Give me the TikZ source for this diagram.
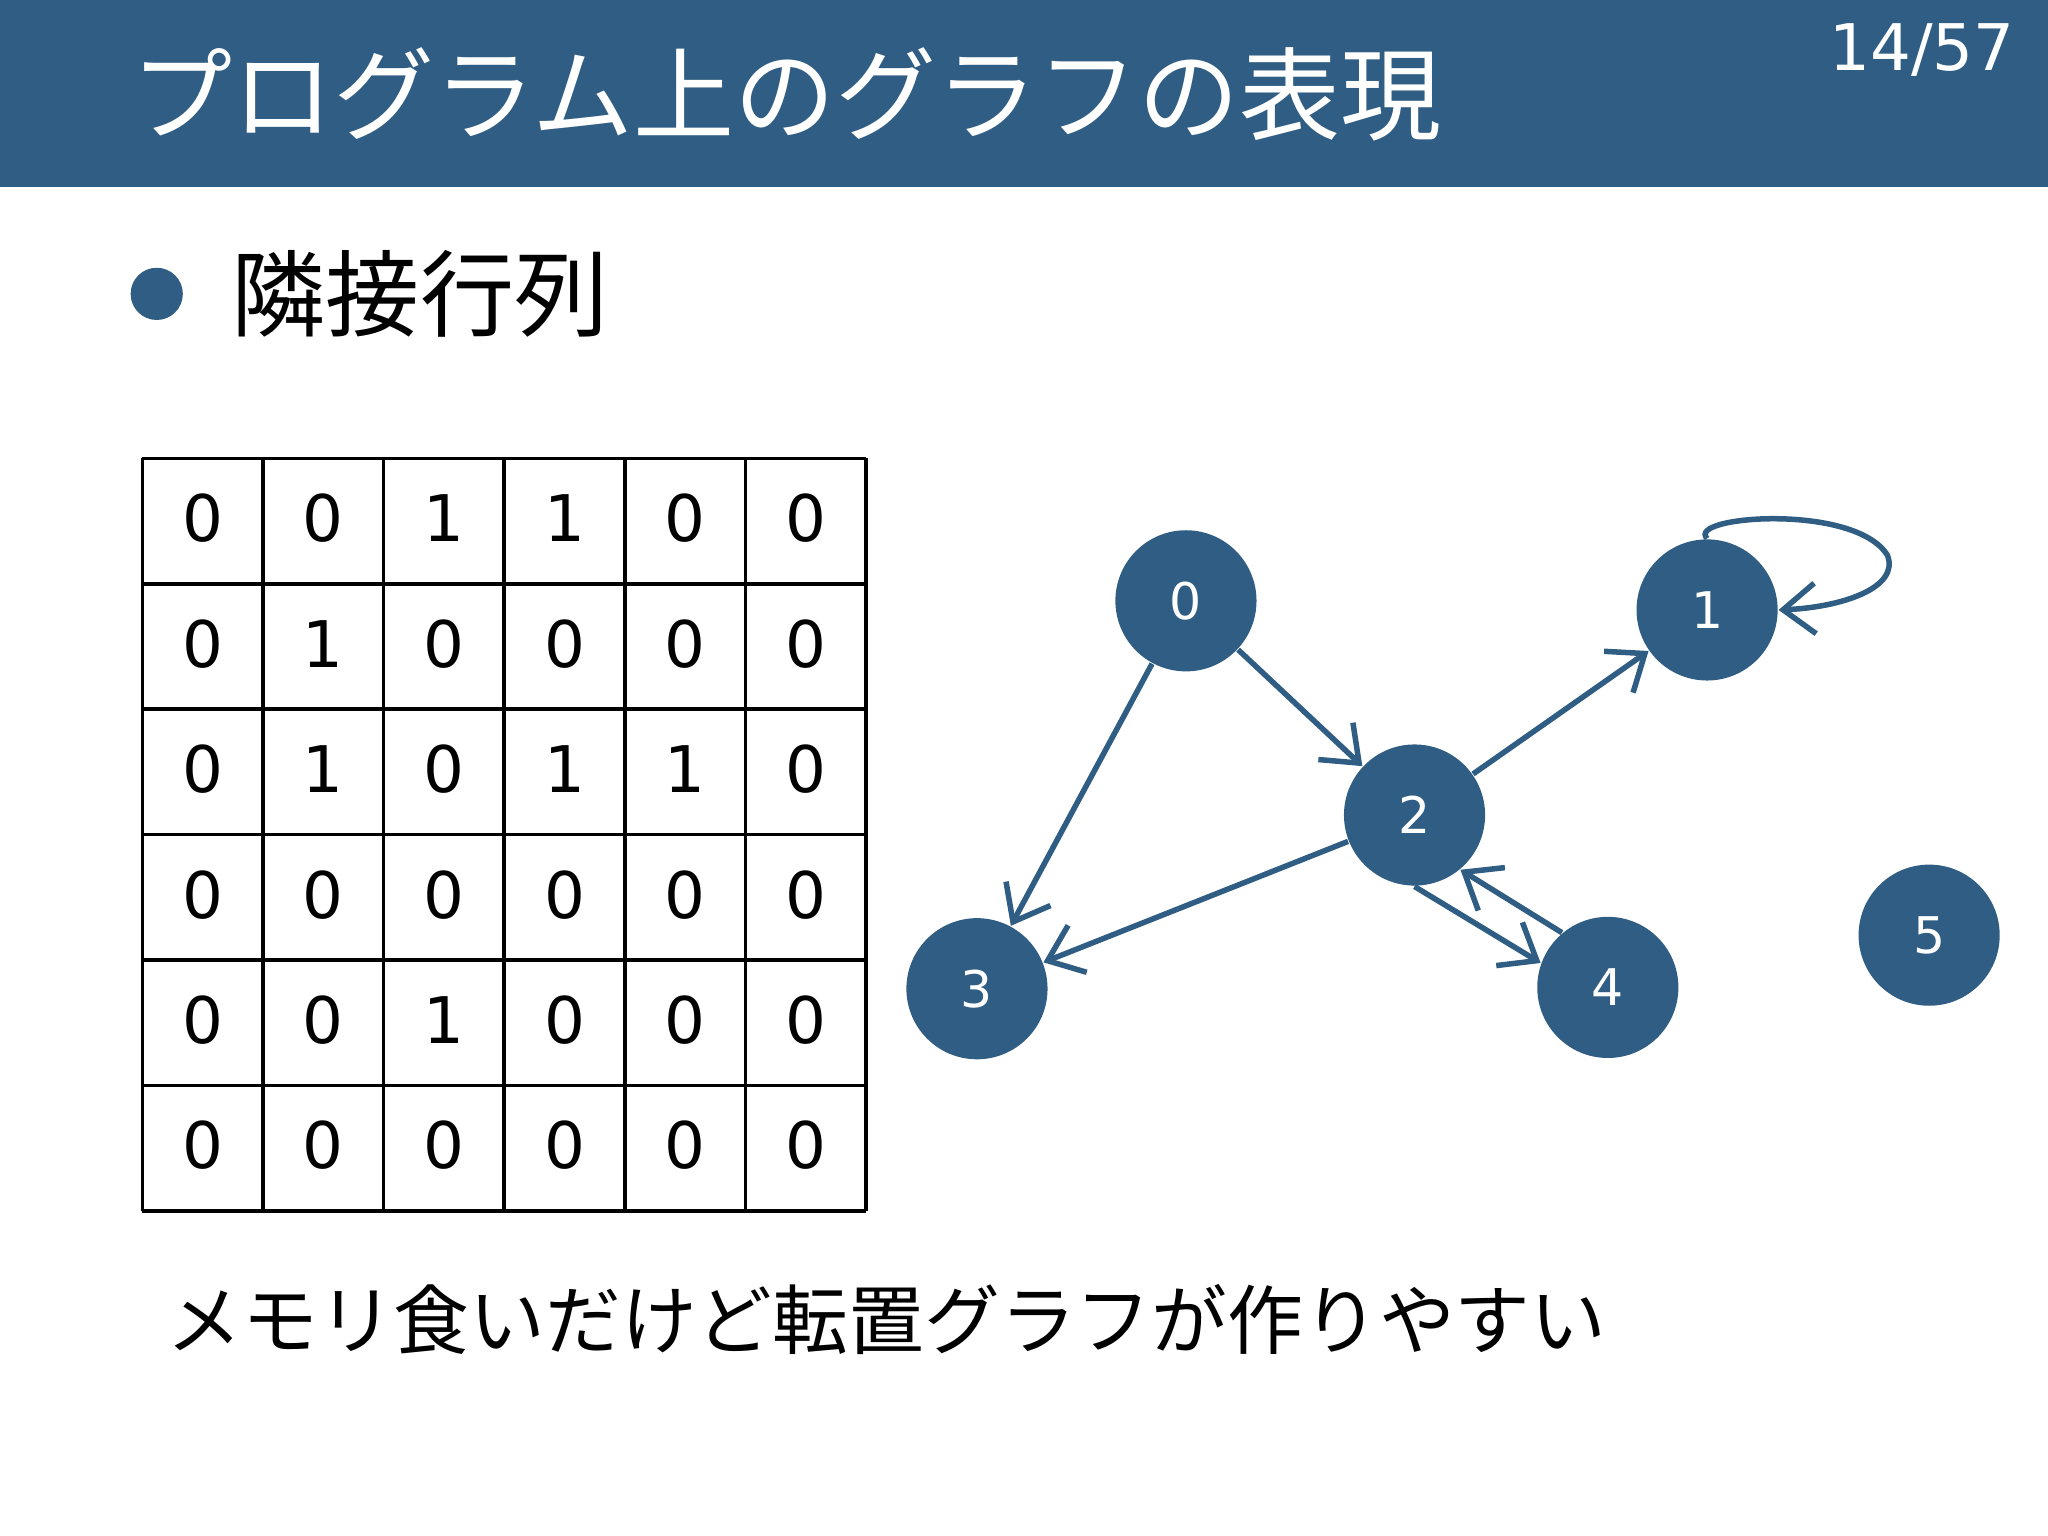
\documentclass[tikz,border=0pt]{standalone}
\usepackage{fontspec}
\setmainfont{DejaVu Sans}
\newfontfamily\jp{Noto Sans CJK JP}
\usetikzlibrary{arrows.meta}
\definecolor{hd}{HTML}{2F5D83}
\begin{document}
\begin{tikzpicture}[x=0.01cm,y=-0.01cm,
  vtx/.style={circle,fill=hd,minimum size=108\pgflinewidth,inner sep=0,text=white,font=\fontsize{10}{12}\selectfont},
  edge/.style={draw=hd,line width=1.2pt,-{Straight Barb[length=7pt,width=11pt]}},
  cell/.style={font=\fontsize{14}{16}\selectfont}]
\useasboundingbox (0,0) rectangle (1568,1176);
\fill[hd] (0,0) rectangle (1568,143);
\node[anchor=west,text=white,font=\jp\fontsize{22}{24}\selectfont] (title) at (88,72) {プログラム上のグラフの表現};
\node[anchor=east,text=white,font=\fontsize{14}{16}\selectfont] (pg) at (1555,38) {14/57};
\fill[hd] (120,225) circle (20);
\node[anchor=west,font=\jp\fontsize{20.5}{22}\selectfont] (sec) at (165,225) {隣接行列};
% table
\foreach \r [count=\i from 0] in {{0,0,1,1,0,0},{0,1,0,0,0,0},{0,1,0,1,1,0},{0,0,0,0,0,0},{0,0,1,0,0,0},{0,0,0,0,0,0}}{
  \foreach \v [count=\j from 0] in \r {
    \node[cell] (c\i\j) at ({109+92.33*\j+46.17},{351+96*\i+46}) {\v};
  }
}
\foreach \k in {0,...,6}{
  \draw[line width=0.8pt] ({109+92.33*\k},351) -- ({109+92.33*\k},927);
  \draw[line width=0.8pt] (109,{351+96*\k}) -- (663,{351+96*\k});
}
% graph
\tikzset{vtx/.style={circle,fill=hd,minimum size=1.08cm,inner sep=0,text=white,font=\fontsize{11}{12}\selectfont}}
\node[vtx] (n0) at (908,460) {0};
\node[vtx] (n1) at (1307,467) {1};
\node[vtx] (n2) at (1083,624) {2};
\node[vtx] (n3) at (748,757) {3};
\node[vtx] (n4) at (1231,756) {4};
\node[vtx] (n5) at (1477,716) {5};
\draw[edge] (n0) -- (n2);
\draw[edge] (n0) -- (n3);
\draw[edge] (n2) -- (n1);
\draw[edge] (n2) -- (n3);
\draw[edge] (n2.-90) -- (n4.160);
\draw[edge] (n4.130) -- (n2.-50);
\draw[edge] (n1.90) .. controls (1290,395) and (1420,385) .. (1445,425) .. controls (1455,450) and (1410,465) .. (n1.east);
\node[anchor=west,font=\jp\fontsize{16.5}{18}\selectfont] (note) at (115,1010) {メモリ食いだけど転置グラフが作りやすい};
\end{tikzpicture}
\end{document}
